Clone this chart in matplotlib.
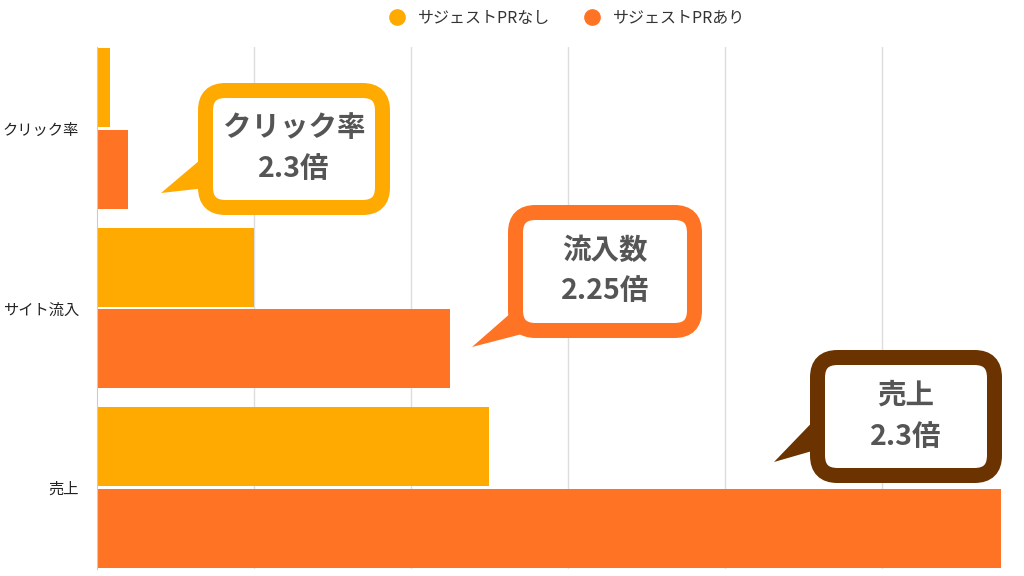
import numpy as np
import matplotlib
matplotlib.use('Agg')
import matplotlib.pyplot as plt
from matplotlib.patches import FancyBboxPatch, Polygon
from matplotlib.transforms import Affine2D

plt.rcParams['font.family'] = ['Noto Sans CJK JP', 'DejaVu Sans']

# data
categories = ['クリック率', 'サイト流入', '売上']
series_names = ['サジェストPRなし', 'サジェストPRあり']
without_pr = [8.3, 100, 250]
with_pr = [19.5, 225, 576]
colors = ['#FFAA00', '#FF7424']

# callouts: text lines, border colour
callout_text = [('クリック率', '2.3倍'), ('流入数', '2.25倍'), ('売上', '2.3倍')]
callout_color = ['#FFAA00', '#FF7424', '#6B3300']

W, H = 1024, 576
fig = plt.figure(figsize=(W/100, H/100), dpi=100)
ax = fig.add_axes([97/W, 1-569/H, (1001-97)/W, (569-47)/H])

y = np.arange(len(categories))
h = 0.44
ax.barh(y-0.228, without_pr, height=h, color=colors[0], label=series_names[0], zorder=2)
ax.barh(y+0.228, with_pr, height=h, color=colors[1], label=series_names[1], zorder=2)

ax.set_ylim(2.453, -0.453)
ax.set_xlim(0, max(with_pr))
ax.set_xticks([100, 200, 300, 400, 500])
ax.set_xticklabels([])
ax.tick_params(axis='x', length=0)
ax.tick_params(axis='y', length=0, labelsize=11, pad=13, labelcolor='#222222')
ax.set_yticks(y)
ax.set_yticklabels(categories)
ax.grid(axis='x', color='#DDDDDD', linewidth=1, zorder=0)
for s in ['top', 'right', 'bottom']:
    ax.spines[s].set_visible(False)
ax.spines['left'].set_color('#CCCCCC')

# legend
hdl = [plt.Line2D([], [], marker='o', linestyle='', markersize=11, color=c) for c in colors]
fig.legend(hdl, series_names, loc='center', bbox_to_anchor=(0.55, 1-18/H), ncol=2,
           frameon=False, fontsize=11.5, handletextpad=0.3, columnspacing=1.6,
           labelcolor='#333333')

# callouts drawn in pixel coordinates (y downward)
px = Affine2D().scale(1/W, -1/H).translate(0, 1) + fig.transFigure

boxes = [(198, 83, 390, 215), (508, 205, 702, 338), (810, 350, 1002, 483)]
tails = [[(161, 193), (206, 155), (206, 188)],
         [(472, 347), (512, 312), (526, 333)],
         [(774, 462), (826, 408), (826, 447)]]
bw = 15
for (x0, y0, x1, y1), tail, col, (t1, t2) in zip(boxes, tails, callout_color, callout_text):
    fig.patches.append(Polygon(tail, closed=True, transform=px, facecolor=col,
                               edgecolor='none', zorder=5))
    fig.patches.append(FancyBboxPatch((x0+bw/2, y0+bw/2), x1-x0-bw, y1-y0-bw,
                                      boxstyle='round,pad=0,rounding_size=20',
                                      transform=px, facecolor='white', edgecolor=col,
                                      linewidth=bw*0.72, zorder=6))
    cx = (x0+x1)/2
    cy = (y0+y1)/2
    fig.text(cx/W, 1-(cy-21)/H, t1, ha='center', va='center', fontsize=20.5,
             fontweight='bold', color='#555555', zorder=7)
    fig.text(cx/W, 1-(cy+20)/H, t2, ha='center', va='center', fontsize=20.5,
             fontweight='bold', color='#555555', zorder=7)

fig.savefig('out.png', dpi=100)
